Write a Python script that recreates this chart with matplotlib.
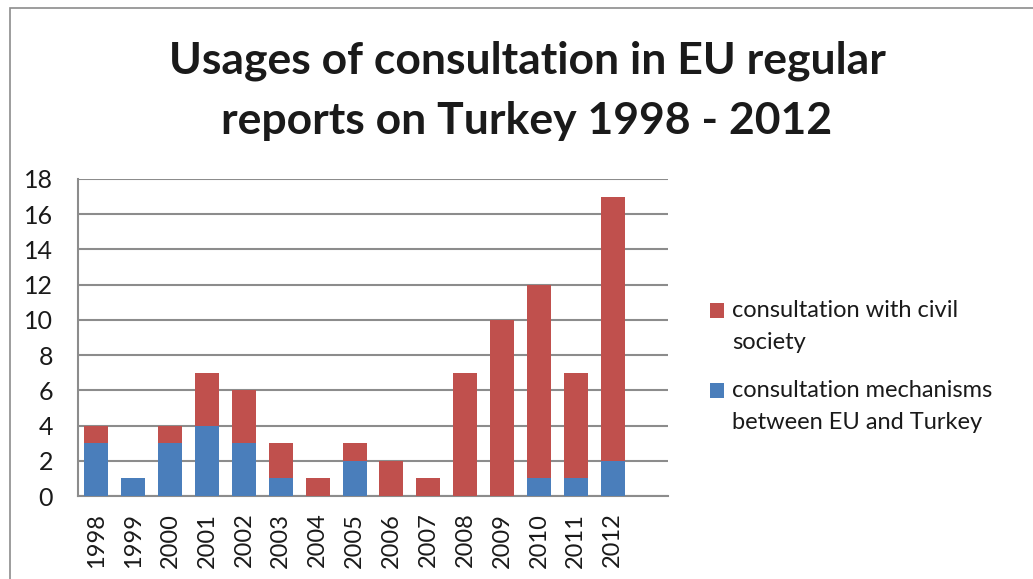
import matplotlib
matplotlib.use("Agg")
import matplotlib.pyplot as plt
from matplotlib.patches import Rectangle
import numpy as np

years = ["1998", "1999", "2000", "2001", "2002", "2003", "2004", "2005",
         "2006", "2007", "2008", "2009", "2010", "2011", "2012"]
mechanisms = [3, 1, 3, 4, 3, 1, 0, 2, 0, 0, 0, 0, 1, 1, 2]
civil_society = [1, 0, 1, 3, 3, 2, 1, 1, 2, 1, 7, 10, 11, 6, 15]
yticks = [0, 2, 4, 6, 8, 10, 12, 14, 16, 18]

title = "Usages of consultation in EU regular\nreports on Turkey 1998 - 2012"
label_civil = "consultation with civil\nsociety"
label_mech = "consultation mechanisms\nbetween EU and Turkey"

blue = "#4A7EBB"
red = "#C0504D"
grid = "#8C8C8C"
txt = "#1a1a1a"

plt.rcParams['font.family'] = ['Lato', 'DejaVu Sans']

W, H = 1033, 579
fig = plt.figure(figsize=(W / 100, H / 100), dpi=100)
fig.patch.set_facecolor("white")

def fx(px):
    return px / W

def fy(py):
    return 1 - py / H

# outer chart frame
fig.add_artist(Rectangle((fx(10), -0.1), 1.2, fy(8) + 0.1,
                         transform=fig.transFigure, fill=False,
                         edgecolor="#8C8C8C", linewidth=1.2))

ax = fig.add_axes([fx(78), fy(496), fx(668 - 78), (496 - 179) / H])
x = np.arange(len(years))
ax.bar(x, mechanisms, width=0.65, color=blue, zorder=3)
ax.bar(x, civil_society, width=0.65, bottom=mechanisms, color=red, zorder=3)

ax.set_xlim(-0.5, len(years) + 0.5)
ax.set_ylim(0, 18)
ax.set_yticks(yticks)
ax.set_yticklabels([str(v) for v in yticks], fontsize=18, color=txt)
ax.set_xticks(x)
ax.set_xticklabels(years, rotation=90, fontsize=17, color=txt)
ax.tick_params(axis="both", length=0)
ax.tick_params(axis="y", pad=18)
ax.tick_params(axis="x", pad=12)

ax.grid(axis="y", color=grid, linewidth=1.5, zorder=0)
for s in ["top", "right"]:
    ax.spines[s].set_visible(False)
for s in ["left", "bottom"]:
    ax.spines[s].set_color(grid)
    ax.spines[s].set_linewidth(1.5)

fig.text(fx(527), fy(91), title, ha="center", va="center",
         fontsize=32, fontweight="bold", color=txt, linespacing=1.6)

# legend (drawn manually for exact placement)
entries = [(red, label_civil, 303), (blue, label_mech, 383)]
for color, label, top in entries:
    fig.add_artist(Rectangle((fx(710), fy(top + 15)), 14 / W, 15 / H,
                             transform=fig.transFigure, facecolor=color,
                             edgecolor="none"))
    fig.text(fx(732), fy(top - 3), label, ha="left", va="top",
             fontsize=17, color=txt, linespacing=1.62)

fig.savefig("out.png", dpi=100)
